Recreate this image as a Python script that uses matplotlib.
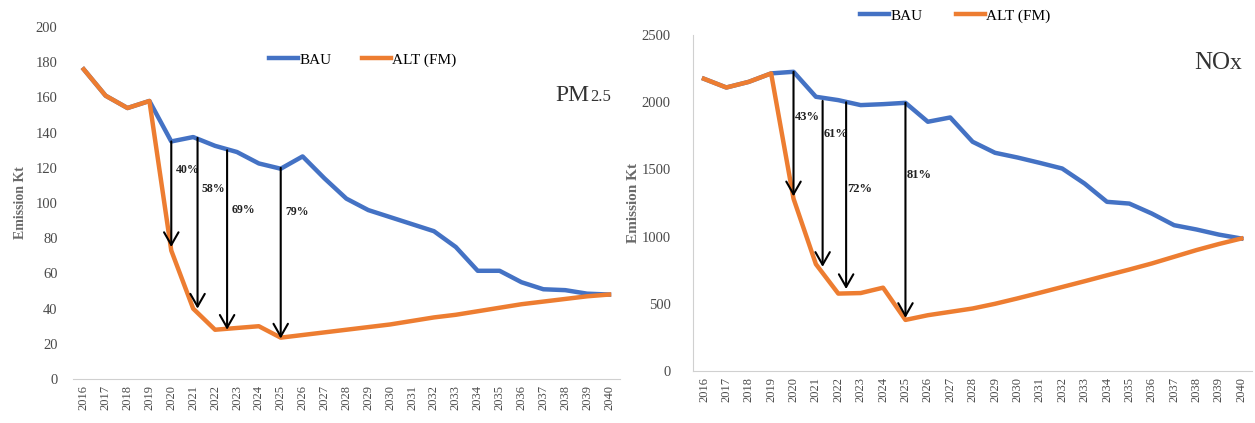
import matplotlib
matplotlib.use("Agg")
import matplotlib.pyplot as plt

# years on the x axis
years = list(range(2016, 2041))

# PM2.5 emissions (kt)
pm_bau = [176, 161, 154, 158, 135, 137.5, 132.5, 129, 122.5, 119.5, 126.5, 114, 102.5,
          96, 92, 88, 84, 75, 61.5, 61.5, 55, 51, 50.5, 48.5, 48]
pm_alt = [176, 161, 154, 158, 73, 40, 28, 29, 30, 23.5, 25, 26.5, 28,
          29.5, 31, 33, 35, 36.5, 38.5, 40.5, 42.5, 44, 45.5, 47, 48]

# NOx emissions (kt)
nox_bau = [2175, 2110, 2152, 2215, 2227, 2041, 2016, 1979, 1986, 1996, 1855, 1887, 1706,
           1624, 1589, 1549, 1507, 1395, 1259, 1246, 1172, 1085, 1053, 1015, 986]
nox_alt = [2175, 2110, 2152, 2215, 1283, 795, 576, 580, 620, 380, 415, 440, 465,
           500, 540, 582, 625, 668, 712, 755, 800, 850, 900, 945, 986]

# reduction arrows: x position, top, bottom, label
pm_arrow_x = [2020, 2021.2, 2022.55, 2025]
pm_arrow_top = [135, 137, 130, 120]
pm_arrow_bot = [75, 40, 28, 23]
pm_pct = ["40%", "58%", "69%", "79%"]
pm_pct_y = [119, 108, 96, 95]

nox_arrow_x = [2020, 2021.3, 2022.35, 2025]
nox_arrow_top = [2227, 2010, 2000, 1996]
nox_arrow_bot = [1300, 775, 610, 395]
nox_pct = ["43%", "61%", "72%", "81%"]
nox_pct_y = [1890, 1765, 1355, 1455]

blue = "#4472C4"
orange = "#ED7D31"
grey = "#4a4a4a"
serif = ["Liberation Serif", "DejaVu Serif"]
plt.rcParams["font.family"] = serif

fig = plt.figure(figsize=(12.55, 4.23), dpi=100)


def draw(ax, bau, alt, ax_x, ax_top, ax_bot, pct, pct_y, pct_dx, ylim, yticks, ypad, lab_size, pct_size):
    ax.plot(years, bau, color=blue, lw=3.2, solid_joinstyle="round", label="BAU")
    ax.plot(years, alt, color=orange, lw=3.2, solid_joinstyle="round", label="ALT (FM)")
    for x, t, b, p, py in zip(ax_x, ax_top, ax_bot, pct, pct_y):
        ax.annotate("", xy=(x, b), xytext=(x, t),
                    arrowprops=dict(arrowstyle="->,head_length=0.7,head_width=0.4",
                                    lw=1.5, color="black", mutation_scale=13,
                                    shrinkA=0, shrinkB=0))
        ax.text(x + pct_dx, py, p, fontsize=pct_size, fontweight="bold", ha="left", va="center",
                color="#222222")
    ax.set_xlim(2015.5, 2040.5)
    ax.set_ylim(*ylim)
    ax.set_xticks(years)
    ax.set_xticklabels([str(y) for y in years], rotation=90, fontsize=9, color=grey)
    ax.set_yticks(yticks)
    ax.set_yticklabels([str(v) for v in yticks], fontsize=10.5, color=grey)
    ax.tick_params(axis="both", length=0)
    ax.tick_params(axis="y", pad=ypad)
    ax.tick_params(axis="x", pad=4)
    for s in ["top", "right"]:
        ax.spines[s].set_visible(False)
    ax.spines["bottom"].set_color("#d0d0d0")
    ax.spines["left"].set_color("#d0d0d0")
    ax.set_ylabel("Emission Kt", fontsize=lab_size, color="#6a6a6a", fontweight="bold")
    ax.set_facecolor("none")


# left panel: PM2.5
ax1 = fig.add_axes([0.058, 0.104, 0.436, 0.832])
draw(ax1, pm_bau, pm_alt, pm_arrow_x, pm_arrow_top, pm_arrow_bot, pm_pct, pm_pct_y, 0.2,
     (0, 200), list(range(0, 201, 20)), 11, 10, 8.5)
ax1.spines["left"].set_visible(False)
ax1.yaxis.set_label_coords(-0.084, 0.5)
ax1.legend(loc="center", bbox_to_anchor=(0.289, 0.858), bbox_transform=fig.transFigure,
           ncol=2, frameon=False, fontsize=11, handlelength=1.9, handletextpad=0.1,
           columnspacing=2.0)
fig.text(0.470, 0.761, "PM", fontsize=17, ha="right", va="baseline", color="#333333")
fig.text(0.470, 0.761, "2.5", fontsize=12, ha="left", va="baseline", color="#333333")

# right panel: NOx
ax2 = fig.add_axes([0.552, 0.123, 0.446, 0.794])
draw(ax2, nox_bau, nox_alt, nox_arrow_x, nox_arrow_top, nox_arrow_bot, nox_pct, nox_pct_y, 0.05,
     (0, 2500), list(range(0, 2501, 500)), 16, 11, 9)
ax2.yaxis.set_label_coords(-0.095, 0.5)
ax2.legend(loc="center", bbox_to_anchor=(0.761, 0.962), bbox_transform=fig.transFigure,
           ncol=2, frameon=False, fontsize=11, handlelength=1.9, handletextpad=0.1,
           columnspacing=2.2)
fig.text(0.980, 0.837, "NO", fontsize=18, ha="right", va="baseline", color="#333333")
fig.text(0.980, 0.837, "x", fontsize=17, ha="left", va="baseline", color="#333333")

fig.savefig("out.png", dpi=100)
